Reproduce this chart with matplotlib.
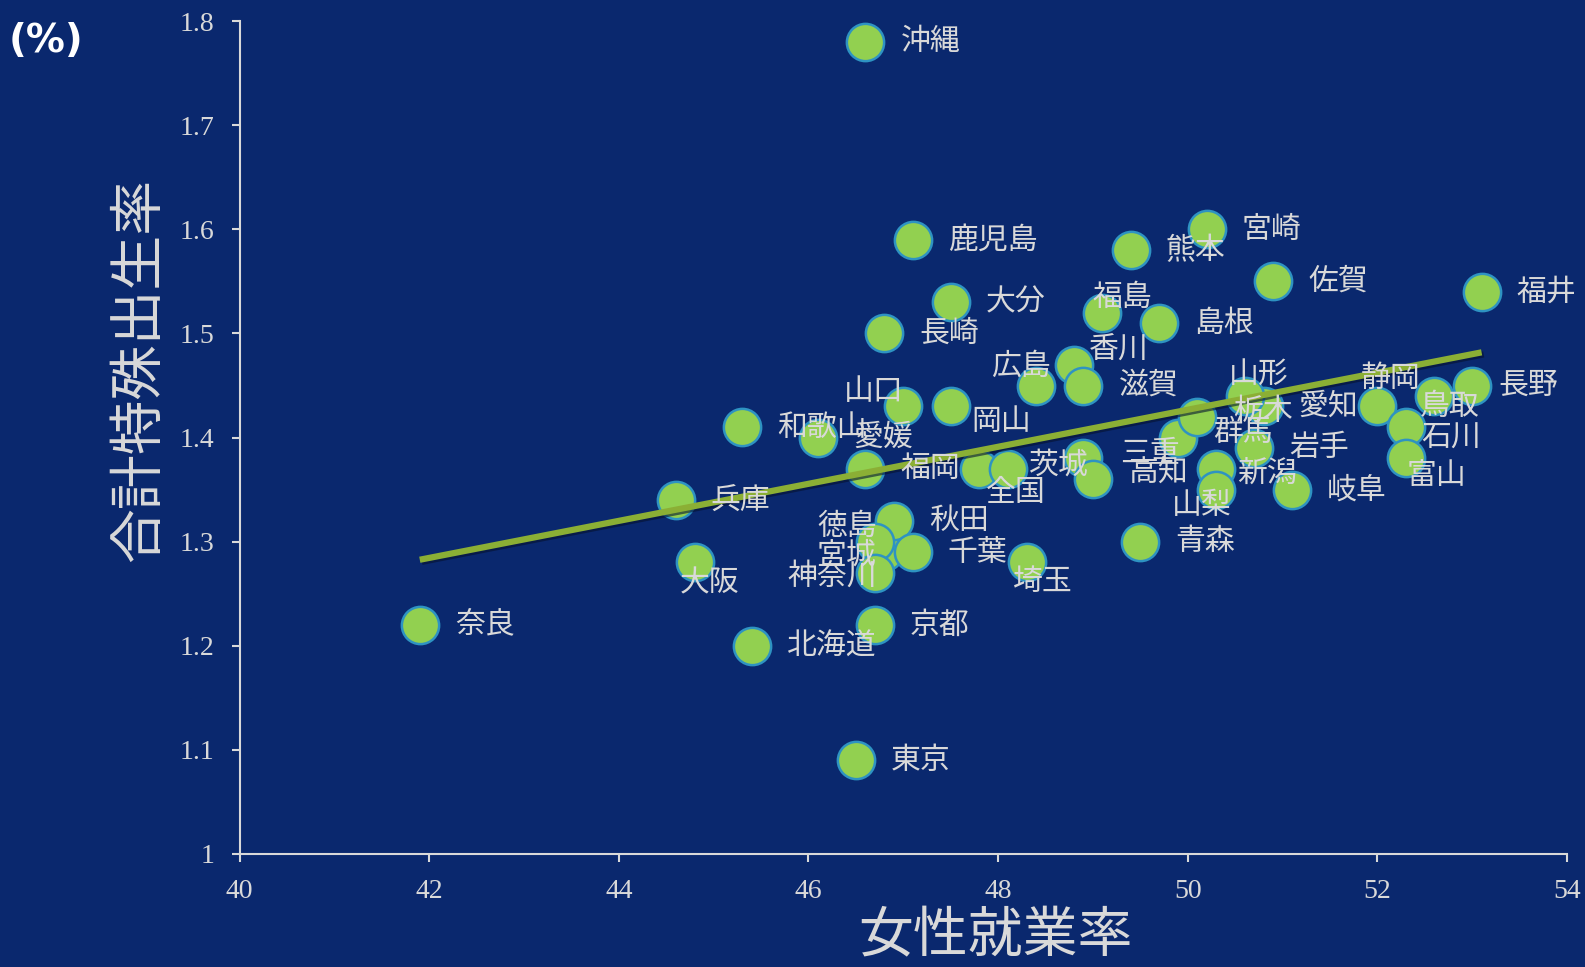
import numpy as np
import matplotlib.pyplot as plt
import matplotlib.patheffects as pe

plt.rcParams['font.family'] = ['Noto Sans CJK JP', 'DejaVu Sans']

# prefecture data: female employment rate (%) vs total fertility rate
prefs = ['宮城', '沖縄', '鹿児島', '宮崎', '熊本', '佐賀', '福井', '大分', '福島', '島根',
         '長崎', '香川', '広島', '滋賀', '山口', '岡山', '和歌山', '愛媛', '福岡', '全国',
         '茨城', '三重', '高知', '群馬', '新潟', '山梨', '青森', '岐阜', '岩手', '愛知',
         '栃木', '山形', '静岡', '鳥取', '石川', '富山', '長野', '兵庫', '秋田', '徳島',
         '千葉', '神奈川', '大阪', '埼玉', '奈良', '京都', '北海道', '東京']
emp_rate = [46.8, 46.6, 47.1, 50.2, 49.4, 50.9, 53.1, 47.5, 49.1, 49.7,
            46.8, 48.8, 48.4, 48.9, 47.0, 47.5, 45.3, 46.1, 46.6, 47.8,
            48.1, 48.9, 49.0, 49.9, 50.3, 50.3, 49.5, 51.1, 50.7, 50.8,
            50.1, 50.6, 52.0, 52.6, 52.3, 52.3, 53.0, 44.6, 46.9, 46.7,
            47.1, 46.7, 44.8, 48.3, 41.9, 46.7, 45.4, 46.5]
fertility = [1.29, 1.78, 1.59, 1.60, 1.58, 1.55, 1.54, 1.53, 1.52, 1.51,
             1.50, 1.47, 1.45, 1.45, 1.43, 1.43, 1.41, 1.40, 1.37, 1.37,
             1.37, 1.38, 1.36, 1.40, 1.37, 1.35, 1.30, 1.35, 1.39, 1.43,
             1.42, 1.44, 1.43, 1.44, 1.41, 1.38, 1.45, 1.34, 1.32, 1.30,
             1.29, 1.27, 1.28, 1.28, 1.22, 1.22, 1.20, 1.09]

x_ticks = [40, 42, 44, 46, 48, 50, 52, 54]
y_ticks = [1.0, 1.1, 1.2, 1.3, 1.4, 1.5, 1.6, 1.7, 1.8]
y_ticklabels = ['1', '1.1', '1.2', '1.3', '1.4', '1.5', '1.6', '1.7', '1.8']

# label placement (pixels from marker centre), default is to the right
label_offsets = {
    '福島': (-10, 15), '香川': (15, 15), '広島': (-45, 19), '山口': (-59, 15),
    '岡山': (21, -15), '全国': (7, -24), '茨城': (21, 4), '山形': (-16, 22),
    '新潟': (21, -4), '山梨': (-44, -16), '静岡': (-17, 28), '鳥取': (-14, -11),
    '石川': (15, -11), '富山': (1, -17), '長野': (26, 0), '徳島': (-57, 15),
    '宮城': (-68, -3), '神奈川': (-87, -3), '大阪': (-15, -20), '埼玉': (-14, -19),
    '三重': (37, 5), '高知': (35, 7), '栃木': (36, 5), '群馬': (35, 5),
}

bg = '#0A286E'
txt = '#D9D9D9'

fig = plt.figure(figsize=(15.85, 9.67), dpi=100)
fig.patch.set_facecolor(bg)
ax = fig.add_axes([0.1512, 0.1169, 0.8374, 0.8612])
ax.set_facecolor(bg)

x = np.array(emp_rate)
y = np.array(fertility)
ax.scatter(x, y, s=720, facecolor='#92D050', edgecolor='#2E93C2', linewidth=1.8, zorder=3)

# linear trend line over the data range
coef = np.polyfit(x, y, 1)
xs = np.array([x.min(), x.max()])
ax.plot(xs, np.polyval(coef, xs), color='#8BAF35', lw=4.5, zorder=4, solid_capstyle='butt',
        path_effects=[pe.SimpleLineShadow(offset=(1.5, -1.5), shadow_color='#05122F', alpha=0.6),
                      pe.Normal()])

for name, xv, yv in zip(prefs, emp_rate, fertility):
    dx, dy = label_offsets.get(name, (35, 0))
    ax.annotate(name, (xv, yv), xytext=(dx, dy), textcoords='offset pixels',
                ha='left', va='center', fontsize=21.5, color=txt, zorder=5)

ax.set_xlim(40, 54)
ax.set_ylim(1.0, 1.8)
ax.set_xticks(x_ticks)
ax.set_xticklabels([str(t) for t in x_ticks], fontfamily='Liberation Serif', fontsize=20)
ax.set_yticks(y_ticks)
ax.set_yticklabels(y_ticklabels, fontfamily='Liberation Serif', fontsize=20)
ax.tick_params(colors=txt, direction='out', length=6, width=1.5, pad=12)
for side in ['top', 'right']:
    ax.spines[side].set_visible(False)
for side in ['left', 'bottom']:
    ax.spines[side].set_color(txt)
    ax.spines[side].set_linewidth(1.5)

fig.text(0.628, 0.031, '女性就業率', fontsize=39.5, color=txt, ha='center', va='center')
fig.text(0.088, 0.617, '合計特殊出生率', fontsize=39.5, color=txt, ha='center', va='center',
         rotation=90)
fig.text(0.029, 0.958, '(%)', fontsize=28, fontweight='bold', color='white',
         ha='center', va='center', family=['DejaVu Sans'])

fig.savefig('out.png', dpi=100, facecolor=bg)
